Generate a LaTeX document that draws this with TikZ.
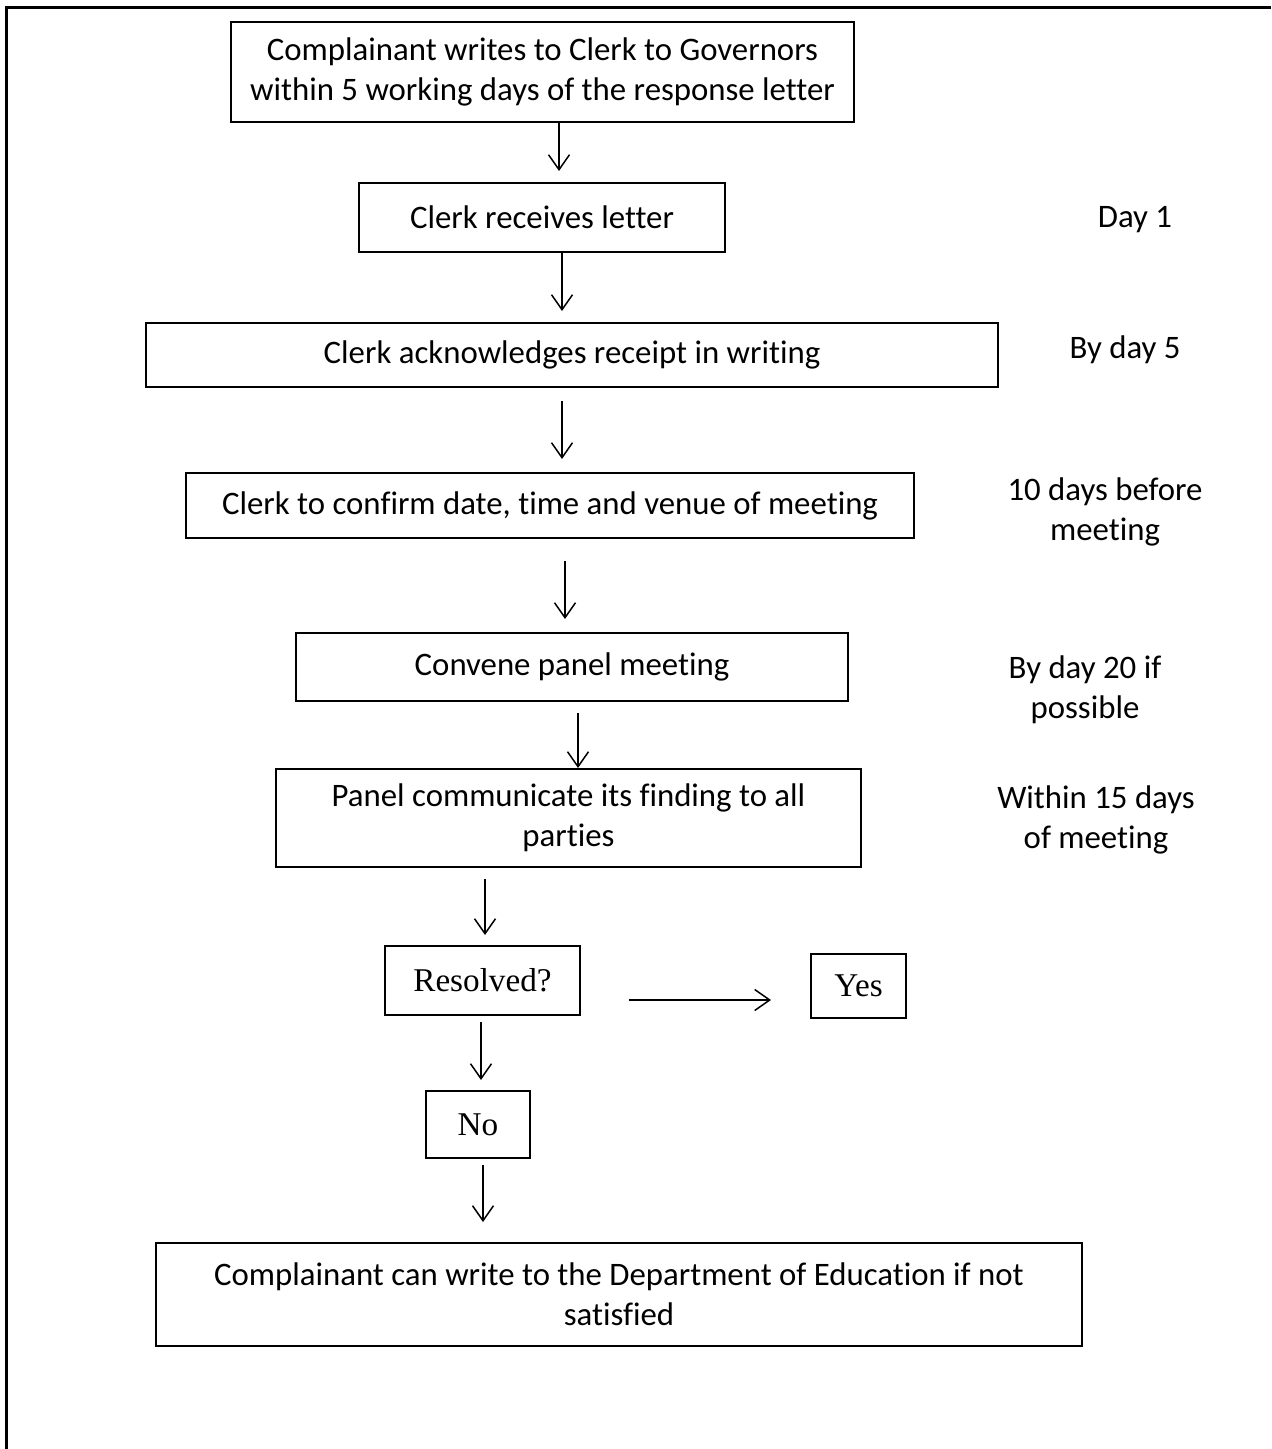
\documentclass[tikz,border=0pt]{standalone}
\usepackage{fontspec}
\setmainfont{Carlito}[Ligatures={NoCommon}]
\newfontfamily\timesf{Liberation Serif}
\usetikzlibrary{arrows.meta}
\tikzset{
  box/.style={draw=black, line width=1pt, inner sep=0pt, align=center,
    font=\fontsize{16.4}{20}\selectfont},
  tbox/.style={draw=black, line width=1pt, inner sep=0pt, align=center,
    font=\timesf\fontsize{16.6}{20}\selectfont},
  side/.style={inner sep=0pt, align=center, font=\fontsize{16.4}{20}\selectfont},
  arr/.style={line width=0.75pt, -{Straight Barb[length=7.5pt,width=10.5pt,line width=0.75pt]}},
}
\begin{document}
\begin{tikzpicture}[x=0.5pt,y=-0.5pt]
\useasboundingbox (0,0) rectangle (1271,1449);
% frame
\draw[line width=1.5pt] (1271,7.5) -- (6,7.5) -- (6,1449);
% boxes
\node[box, minimum width=311.5pt, minimum height=50pt] (b1) at (542.5,72)
  {Complainant writes to Clerk to Governors\\within 5 working days of the response letter};
\node[box, minimum width=183pt, minimum height=34.5pt] (b2) at (542,217.5) {Clerk receives letter};
\node[box, minimum width=426pt, minimum height=32pt] (b3) at (572,355) {Clerk acknowledges receipt in writing};
\node[box, minimum width=364pt, minimum height=32.5pt] (b4) at (550,505.5) {Clerk to confirm date, time and venue of meeting};
\node[box, minimum width=276pt, minimum height=34pt] (b5) at (572,667) {Convene panel meeting};
\node[box, minimum width=292.5pt, minimum height=49pt] (b6) at (568.5,818) {Panel communicate its finding to all\\parties};
\node[tbox, minimum width=97.5pt, minimum height=34.5pt] (res) at (482.5,980.5) {Resolved?};
\node[tbox, minimum width=47.5pt, minimum height=32pt] (yes) at (858.5,986) {Yes};
\node[tbox, minimum width=52pt, minimum height=33.5pt] (no) at (478,1124.5) {No};
\node[box, minimum width=463pt, minimum height=51.5pt] (fin) at (619,1294.5)
  {Complainant can write to the Department of Education if not\\satisfied};
% side labels
\node[side] (s1) at (1135,220) {Day 1};
\node[side] (s2) at (1125,350) {By day 5};
\node[side] (s3) at (1105,512) {10 days before\\meeting};
\node[side] (s4) at (1085,690) {By day 20 if\\possible};
\node[side] (s5) at (1096,820) {Within 15 days\\of meeting};
% arrows
\draw[arr, shorten >=5.5pt] (b1.south -| 559,0) -- (b2.north -| 559,0);
\draw[arr, shorten >=5.5pt] (b2.south -| 562,0) -- (b3.north -| 562,0);
\draw[arr, shorten <=6.5pt, shorten >=6.5pt] (b3.south -| 562,0) -- (b4.north -| 562,0);
\draw[arr, shorten <=11pt, shorten >=6.5pt] (b4.south -| 565,0) -- (b5.north -| 565,0);
\draw[arr, shorten <=5.5pt] (b5.south -| 578,0) -- (b6.north -| 578,0);
\draw[arr, shorten <=5.5pt, shorten >=5pt] (b6.south -| 485,0) -- (res.north -| 485,0);
\draw[arr, shorten <=3pt, shorten >=5pt] (res.south -| 481,0) -- (no.north -| 481,0);
\draw[arr, shorten <=3pt, shorten >=10pt] (no.south -| 483,0) -- (fin.north -| 483,0);
\draw[arr, shorten <=24pt, shorten >=19.5pt] (res.east |- 0,1000) -- (yes.west |- 0,1000);
\end{tikzpicture}
\end{document}
